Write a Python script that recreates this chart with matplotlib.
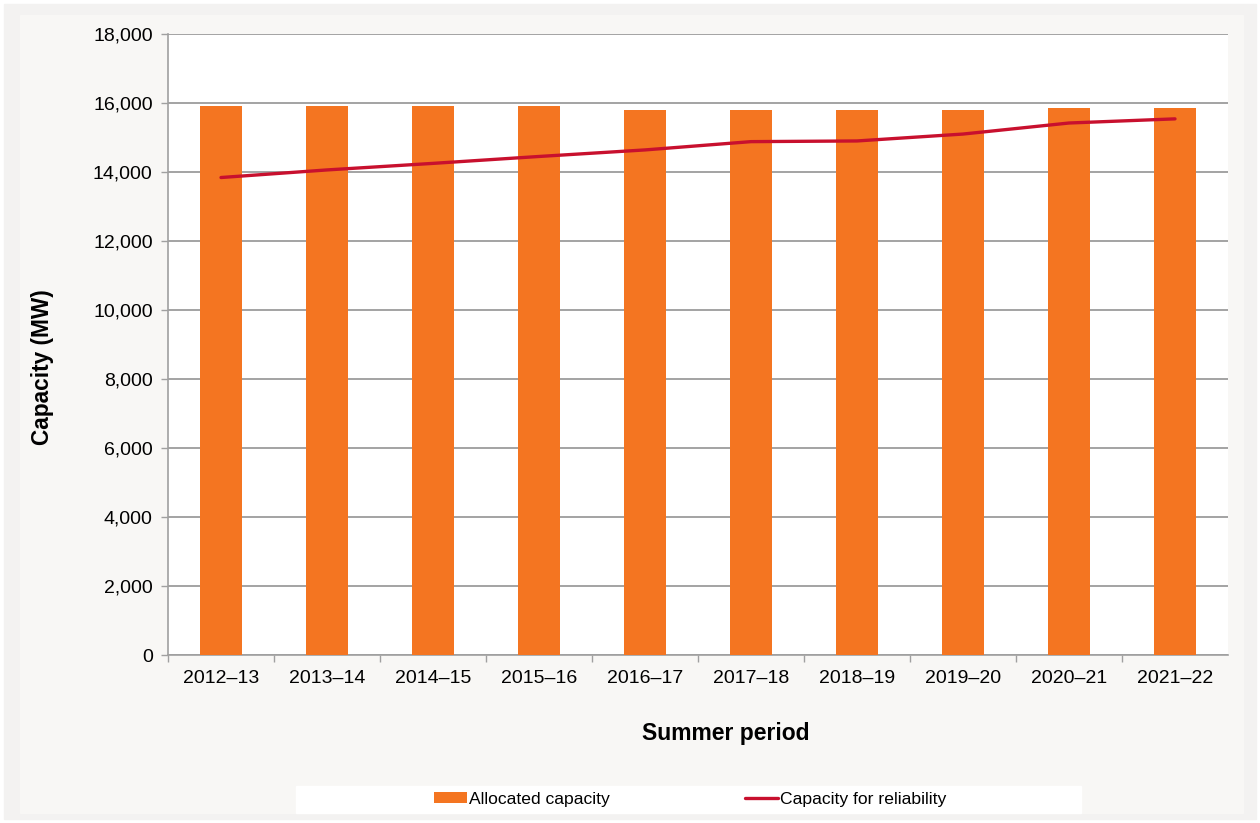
import matplotlib
matplotlib.use('Agg')
import matplotlib.pyplot as plt
from matplotlib.patches import Rectangle
from matplotlib.ticker import FuncFormatter, FixedLocator
import numpy as np

plt.rcParams['font.family'] = ['Liberation Sans', 'DejaVu Sans']

periods = ['2012–13', '2013–14', '2014–15', '2015–16', '2016–17',
           '2017–18', '2018–19', '2019–20', '2020–21', '2021–22']
allocated = [15900, 15900, 15900, 15900, 15810, 15810, 15810, 15810, 15860, 15860]
reliability = [13840, 14060, 14250, 14450, 14640, 14880, 14900, 15100, 15420, 15540]

W, H = 1260, 823
fig = plt.figure(figsize=(W / 100, H / 100), dpi=100, facecolor='white')

# background panels
fig.patches.append(Rectangle((4 / W, 1 - 819 / H), 1252 / W, 815 / H,
                             transform=fig.transFigure, color='#f3f2f1', zorder=-3))
fig.patches.append(Rectangle((20 / W, 1 - 813 / H), 1223 / W, 798 / H,
                             transform=fig.transFigure, color='#f8f7f5', zorder=-2))
fig.patches.append(Rectangle((296 / W, 1 - 813 / H), 785 / W, 27 / H,
                             transform=fig.transFigure, color='white', zorder=-1))

ax = fig.add_axes([168 / W, 1 - 655 / H, 1060 / W, 621 / H])
ax.set_facecolor('white')

x = np.arange(len(periods))
bars = ax.bar(x, allocated, width=0.4, color='#f47521', zorder=3, label='Allocated capacity')
line, = ax.plot(x, reliability, color='#c8102e', linewidth=2.4, zorder=4,
                solid_capstyle='round', label='Capacity for reliability')

ax.set_xlim(-0.5, len(periods) - 0.5)
ax.set_ylim(0, 18000)
ax.set_yticks(np.arange(0, 18001, 2000))
ax.yaxis.set_major_formatter(FuncFormatter(lambda v, p: f'{int(v):,}'))
ax.grid(axis='y', color='#8a8a8a', linewidth=1.1, zorder=1)

ax.xaxis.set_major_locator(FixedLocator(np.arange(-0.5, len(periods) - 1, 1.0)))
ax.xaxis.set_minor_locator(FixedLocator(x))
ax.set_xticklabels([], minor=False)
ax.set_xticklabels(periods, minor=True)
ax.tick_params(axis='x', which='major', length=5, color='#a0a0a0', width=1)
ax.tick_params(axis='x', which='minor', length=0, pad=11, labelsize=14)
ax.tick_params(axis='y', length=5, color='#a0a0a0', width=1, pad=6, labelsize=14)

for side in ['top', 'right']:
    ax.spines[side].set_visible(False)
for side in ['left', 'bottom']:
    ax.spines[side].set_color('#a0a0a0')
    ax.spines[side].set_linewidth(1.2)

ax.set_xlabel('Summer period', fontsize=16.5, fontweight='bold')
ax.xaxis.set_label_coords(0.526, -0.108)
ax.set_ylabel('Capacity (MW)', fontsize=16.3, fontweight='bold')
ax.yaxis.set_label_coords(-0.108, 0.464)

fig.legend(handles=[bars, line], loc='center', bbox_to_anchor=(690 / W, 1 - 799.5 / H),
           ncol=2, frameon=False, fontsize=12.6, handlelength=1.9, handleheight=0.6,
           handletextpad=0.1, columnspacing=7.7)

fig.savefig('out.png', dpi=100, facecolor=fig.get_facecolor())
